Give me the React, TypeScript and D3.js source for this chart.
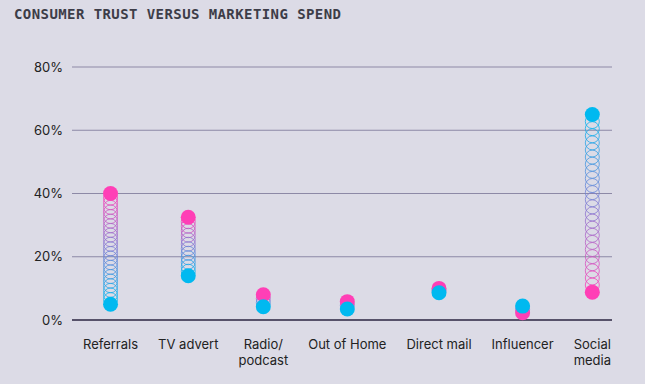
import React from "react";
import * as d3 from "d3";

// Chart data (percent)
const categories = ["Referrals", "TV advert", "Radio/\npodcast", "Out of Home", "Direct mail", "Influencer", "Social\nmedia"];
const trust = [40, 32.5, 8, 5.8, 10, 2.3, 8.8]; // pink
const spend = [5, 14, 4.2, 3.5, 8.6, 4.4, 65]; // blue
const yTicks = [0, 20, 40, 60, 80];

const W = 645, H = 384;
const PINK = "#ff3fb6";
const BLUE = "#00b9f0";
const LABEL_FONT = "13px Inter, 'Liberation Sans', sans-serif";

// labels sit in a row with equal gaps, so centres depend on text width
function labelCentres(left: number, right: number) {
  const ctx = document.createElement("canvas").getContext("2d")!;
  ctx.font = LABEL_FONT;
  const widths = categories.map((c) => d3.max(c.split("\n"), (l) => ctx.measureText(l).width) as number);
  const gap = (right - left - d3.sum(widths)) / (categories.length - 1);
  let x = left;
  return widths.map((w) => {
    const c = x + w / 2;
    x += w + gap;
    return c;
  });
}

export default function App() {
  const y = d3.scaleLinear().domain([0, 80]).range([320, 67]);
  const x = d3.scaleOrdinal<string, number>().domain(categories).range(labelCentres(83, 611));
  const gridX0 = 72, gridX1 = 612;
  const dotR = 7.5;
  const family = LABEL_FONT.split("px ")[1];

  return (
    <svg width={W} height={H} style={{ position: "absolute", left: 0, top: 0 }}>
      <rect width={W} height={H} fill="#dcdbe6" />
      <text x={14} y={19} fontFamily="'DejaVu Sans Mono', monospace" fontWeight="bold" fontSize={14}
        letterSpacing={0.42} fill="#3d3d48">
        CONSUMER TRUST VERSUS MARKETING SPEND
      </text>

      {/* grid + y axis labels */}
      {yTicks.map((t) => (
        <g key={t}>
          <line x1={gridX0} x2={gridX1} y1={y(t)} y2={y(t)}
            stroke={t === 0 ? "#2b2540" : "#8d89a6"} strokeWidth={t === 0 ? 1.3 : 1.2} />
          <text x={63} y={y(t)} dy="0.35em" textAnchor="end" fontFamily={family}
            fontSize={13} fill="#222">{t}%</text>
        </g>
      ))}

      {/* coil of rings between the two dots */}
      {categories.map((c, i) => {
        const yp = y(trust[i]), yb = y(spend[i]);
        const len = Math.abs(yb - yp);
        const n = Math.max(2, Math.min(25, Math.round(len / 4.6)));
        const col = d3.interpolateRgb(PINK, BLUE);
        return (
          <g key={"r" + c}>
            {d3.range(1, n).map((k) => {
              const t = k / n;
              return (
                <circle key={k} cx={x(c)} cy={yp + (yb - yp) * t} r={7}
                  fill="none" stroke={col(t)} strokeWidth={1} opacity={0.8} />
              );
            })}
          </g>
        );
      })}

      {categories.map((c, i) => (
        <circle key={"p" + c} cx={x(c)} cy={y(trust[i])} r={dotR} fill={PINK} />
      ))}
      {categories.map((c, i) => (
        <circle key={"b" + c} cx={x(c)} cy={y(spend[i])} r={dotR} fill={BLUE} />
      ))}

      {/* x labels */}
      {categories.map((c) => (
        <text key={"l" + c} x={x(c)} y={349} textAnchor="middle"
          fontFamily={family} fontSize={13} fill="#222">
          {c.split("\n").map((line, j) => (
            <tspan key={j} x={x(c)} dy={j === 0 ? 0 : 16}>{line}</tspan>
          ))}
        </text>
      ))}
    </svg>
  );
}
